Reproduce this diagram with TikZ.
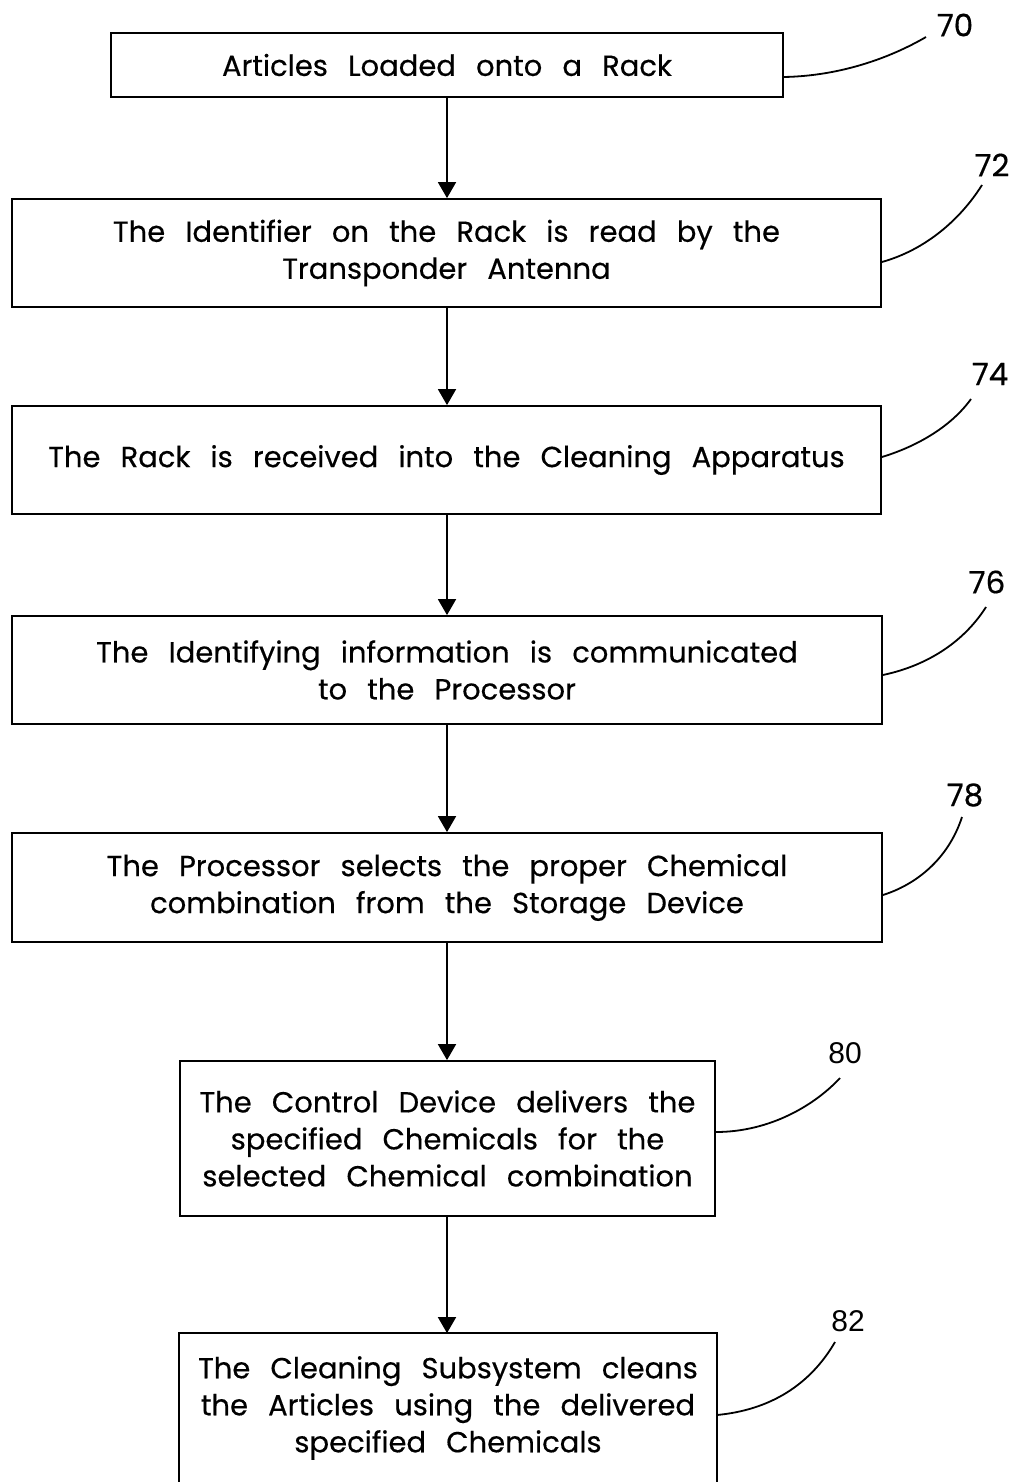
\documentclass[tikz,border=0pt]{standalone}
\usepackage{fontspec}
\setmainfont{Poppins}[WordSpace=2.6]
\newfontfamily\boxfont{Poppins}[WordSpace=2.6, FakeBold=0.4]
\newfontfamily\numfont{Liberation Sans}
\usetikzlibrary{arrows.meta}
\begin{document}
\begin{tikzpicture}[x=1pt,y=-1pt,
  stepbox/.style={draw, line width=1.8pt, inner sep=0pt, align=center, font=\boxfont\fontsize{29}{37}\selectfont},
  boxline/.style={line width=1.8pt},
  flow/.style={line width=1.8pt, -{Triangle[width=18pt,length=16pt]}},
  leader/.style={line width=1.8pt},
  reflabel/.style={font=\boxfont\fontsize{31}{31}\selectfont, inner sep=0pt},
  reflabelb/.style={font=\numfont\fontsize{30}{30}\selectfont, inner sep=0pt}]
\useasboundingbox (0,0) rectangle (1014,1482);
\clip (0,0) rectangle (1014,1482);
\fill[white] (0,0) rectangle (1014,1482);

% boxes
\node[stepbox, minimum width=672pt, minimum height=64pt] (b70) at (447,65) {Articles Loaded onto a Rack};
\node[stepbox, minimum width=869pt, minimum height=108pt] (b72) at (446.5,253) {The Identifier on the Rack is read by the\\Transponder Antenna};
\node[stepbox, minimum width=869pt, minimum height=108pt] (b74) at (446.5,460) {The Rack is received into the Cleaning Apparatus};
\node[stepbox, minimum width=870pt, minimum height=108pt] (b76) at (447,670) {The Identifying information is communicated\\to the Processor};
\node[stepbox, minimum width=870pt, minimum height=109pt] (b78) at (447,887.5) {The Processor selects the proper Chemical\\combination from the Storage Device};
\node[stepbox, minimum width=535pt, minimum height=155pt] (b80) at (447.5,1138.5) {The Control Device delivers the\\specified Chemicals for the\\selected Chemical combination};
\node[stepbox, draw=none, minimum width=536pt, minimum height=148pt] (b82) at (448,1408) {The Cleaning Subsystem cleans\\the Articles using the delivered\\specified Chemicals};
\draw[boxline] ([yshift=-20pt]b82.south west) -- (b82.north west) -- (b82.north east) -- ([yshift=-20pt]b82.south east);

% flow arrows
\draw[flow] (b70.south) -- (b70.south |- b72.north);
\draw[flow] (b70.south |- b72.south) -- (b70.south |- b74.north);
\draw[flow] (b70.south |- b74.south) -- (b70.south |- b76.north);
\draw[flow] (b70.south |- b76.south) -- (b70.south |- b78.north);
\draw[flow] (b70.south |- b78.south) -- (b70.south |- b80.north);
\draw[flow] (b70.south |- b80.south) -- (b70.south |- b82.north);

% reference labels
\node[reflabel] (r70) at (955,25) {70};
\node[reflabel] (r72) at (992,165) {72};
\node[reflabel] (r74) at (990,374) {74};
\node[reflabel] (r76) at (987,582) {76};
\node[reflabel] (r78) at (965,795) {78};
\node[reflabelb] (r80) at (845,1053) {80};
\node[reflabelb] (r82) at (848,1321) {82};

\coordinate (e70) at (926,37);
\coordinate (e72) at (982,185);
\coordinate (e74) at (971,399);
\coordinate (e76) at (986,607);
\coordinate (e78) at (962,817);
\coordinate (e80) at (840,1078);
\coordinate (e82) at (835,1342);

% leader lines
\draw[leader] ([yshift=-12pt]b70.east) .. controls (840,76) and (890,58) .. (e70);
\draw[leader] ([yshift=-9pt]b72.east) .. controls (925,250) and (960,220) .. (e72);
\draw[leader] ([yshift=3pt]b74.east) .. controls (915,447) and (950,428) .. (e74);
\draw[leader] ([yshift=-5pt]b76.east) .. controls (930,665) and (965,640) .. (e76);
\draw[leader] ([yshift=-7.5pt]b78.east) .. controls (915,885) and (948,860) .. (e78);
\draw[leader] ([yshift=6.5pt]b80.east) .. controls (770,1132) and (815,1105) .. (e80);
\draw[leader] ([yshift=-7pt]b82.east) .. controls (770,1410) and (810,1385) .. (e82);
\end{tikzpicture}
\end{document}
